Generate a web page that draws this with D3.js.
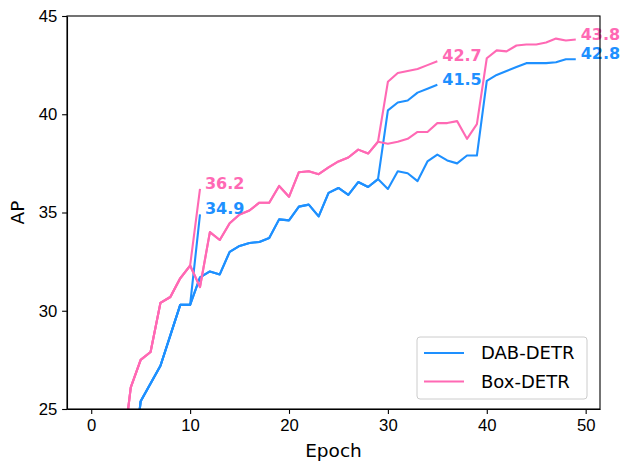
<!DOCTYPE html>
<html>
<head>
<meta charset="utf-8">
<script src="https://cdn.jsdelivr.net/npm/d3@7"></script>
<style>
    body { margin: 0; background: #fff; }
    svg { font-family: "DejaVu Sans", sans-serif; display: block; }
    .axis path, .axis line { stroke: #000; stroke-width: 1.1; }
    .axis text { font-size: 16.7px; fill: #000; }
    .line { fill: none; stroke-width: 2.1; stroke-linejoin: round; }
</style>
</head>
<body>
<svg id="chart" width="621" height="461"></svg>
<script>
'use strict';

// AP per epoch of the 50 epoch schedule (epochs 0..49, the first ones are below the axis)
let dab50 = [4.0, 10.0, 14.5, 18.5, 21.0, 25.4, 26.3, 27.2, 28.75, 30.3,
    30.3, 31.7, 32.0, 31.85, 33.0, 33.3, 33.45, 33.5, 33.7, 34.65,
    34.6, 35.3, 35.4, 34.8, 36.0, 36.25, 35.9, 36.55, 36.3, 36.7,
    36.2, 37.1, 37.0, 36.6, 37.6, 37.95, 37.65, 37.5, 37.9, 37.9,
    41.7, 42.0, 42.2, 42.4, 42.6, 42.6, 42.6, 42.65, 42.8, 42.8];
let box50 = [6.0, 13.0, 17.5, 22.0, 26.1, 27.5, 27.9, 30.4, 30.7, 31.65,
    32.3, 31.2, 34.0, 33.6, 34.45, 34.9, 35.1, 35.5, 35.5, 36.35,
    35.8, 37.05, 37.1, 36.95, 37.3, 37.6, 37.8, 38.2, 38.0, 38.6,
    38.5, 38.6, 38.75, 39.1, 39.1, 39.55, 39.55, 39.65, 38.75, 39.5,
    42.85, 43.25, 43.2, 43.5, 43.55, 43.55, 43.65, 43.85, 43.75, 43.8];

// shorter schedules share the first epochs, then lr drop
let shortDrop = 10;          // 12 epoch schedule branches after epoch 10
let dab12Tail = [34.9];
let box12Tail = [36.2];
let midDrop = 29;            // 36 epoch schedule branches after epoch 29
let dab36Tail = [40.2, 40.6, 40.7, 41.1, 41.3, 41.5];
let box36Tail = [41.65, 42.1, 42.2, 42.3, 42.5, 42.7];

let models = ["DAB-DETR", "Box-DETR"];
let colors = ["#1e90ff", "#ff69b4"];
let xTicks = [0, 10, 20, 30, 40, 50];
let yTicks = [25, 30, 35, 40, 45];

function toPoints(values, start) {
    return values.map((v, i) => ({epoch: start + i, ap: v}));
}

function runs(base, tail12, tail36) {
    return [
        toPoints(base.slice(0, shortDrop + 1), 0).concat(toPoints(tail12, shortDrop + 1)),
        toPoints(base.slice(0, midDrop + 1), 0).concat(toPoints(tail36, midDrop + 1)),
        toPoints(base, 0)
    ];
}

let series = [
    {name: models[0], color: colors[0], runs: runs(dab50, dab12Tail, dab36Tail)},
    {name: models[1], color: colors[1], runs: runs(box50, box12Tail, box36Tail)}
];

let svg = d3.select("#chart"),
    margin = {top: 16, right: 21, bottom: 52, left: 67},
    width = +svg.attr("width"),
    height = +svg.attr("height");

let x = d3.scaleLinear()
    .domain([-2.45, 51.45])
    .range([margin.left, width - margin.right]);
let y = d3.scaleLinear()
    .domain([25, 45])
    .range([height - margin.bottom, margin.top]);

svg.append("clipPath")
    .attr("id", "plotClip")
    .append("rect")
    .attr("x", margin.left)
    .attr("y", margin.top)
    .attr("width", width - margin.right - margin.left)
    .attr("height", height - margin.bottom - margin.top);

let line = d3.line()
    .x(d => x(d.epoch))
    .y(d => y(d.ap));

let plot = svg.append("g").attr("clip-path", "url(#plotClip)");
for (let s of series) {
    plot.selectAll(null)
        .data(s.runs)
        .enter()
        .append("path")
        .attr("class", "line")
        .style("stroke", s.color)
        .attr("d", d => line(d));
}

// final AP next to the end of every run
for (let s of series) {
    svg.selectAll(null)
        .data(s.runs)
        .enter()
        .append("text")
        .attr("x", d => x(d[d.length - 1].epoch + 0.5))
        .attr("y", d => y(d[d.length - 1].ap))
        .style("fill", s.color)
        .style("font-weight", "bold")
        .style("font-size", "16px")
        .text(d => d[d.length - 1].ap.toFixed(1));
}

svg.append("g")
    .attr("class", "axis")
    .attr("transform", "translate(0," + (height - margin.bottom) + ")")
    .call(d3.axisBottom(x).tickValues(xTicks).tickSize(4.9).tickPadding(4.9).tickSizeOuter(0))
    .call(g => g.selectAll("text").attr("font-family", null));

svg.append("g")
    .attr("class", "axis")
    .attr("transform", "translate(" + margin.left + ",0)")
    .call(d3.axisLeft(y).tickValues(yTicks).tickSize(4.9).tickPadding(4.9).tickSizeOuter(0))
    .call(g => g.selectAll("text").attr("font-family", null));

// frame
svg.append("rect")
    .attr("x", margin.left)
    .attr("y", margin.top)
    .attr("width", width - margin.right - margin.left)
    .attr("height", height - margin.bottom - margin.top)
    .style("fill", "none")
    .style("stroke", "#000")
    .style("stroke-width", 1.1);

svg.append("text")      // x-axis label
    .attr("x", (margin.left + width - margin.right) / 2)
    .attr("y", height - 4)
    .style("text-anchor", "middle")
    .style("font-size", "18.5px")
    .text("Epoch");

svg.append("text")      // y-axis label
    .attr("transform", "translate(24," + ((margin.top + height - margin.bottom) / 2) + ") rotate(-90)")
    .style("text-anchor", "middle")
    .style("font-size", "18.5px")
    .text("AP");

let legend = svg.append("g").attr("transform", "translate(417,337)");
legend.append("rect")
    .attr("width", 170)
    .attr("height", 62)
    .attr("rx", 3)
    .style("fill", "#fff")
    .style("fill-opacity", 0.8)
    .style("stroke", "#ccc")
    .style("stroke-width", 1);
let item = legend.selectAll(null)
    .data(series)
    .enter()
    .append("g")
    .attr("transform", (d, i) => "translate(0," + (16 + i * 28.5) + ")");
item.append("line")
    .attr("x1", 7).attr("x2", 47)
    .style("stroke", d => d.color)
    .style("stroke-width", 2.1);
item.append("text")
    .attr("x", 64)
    .attr("dy", "0.35em")
    .style("font-size", "18px")
    .text(d => d.name);
</script>
</body>
</html>
